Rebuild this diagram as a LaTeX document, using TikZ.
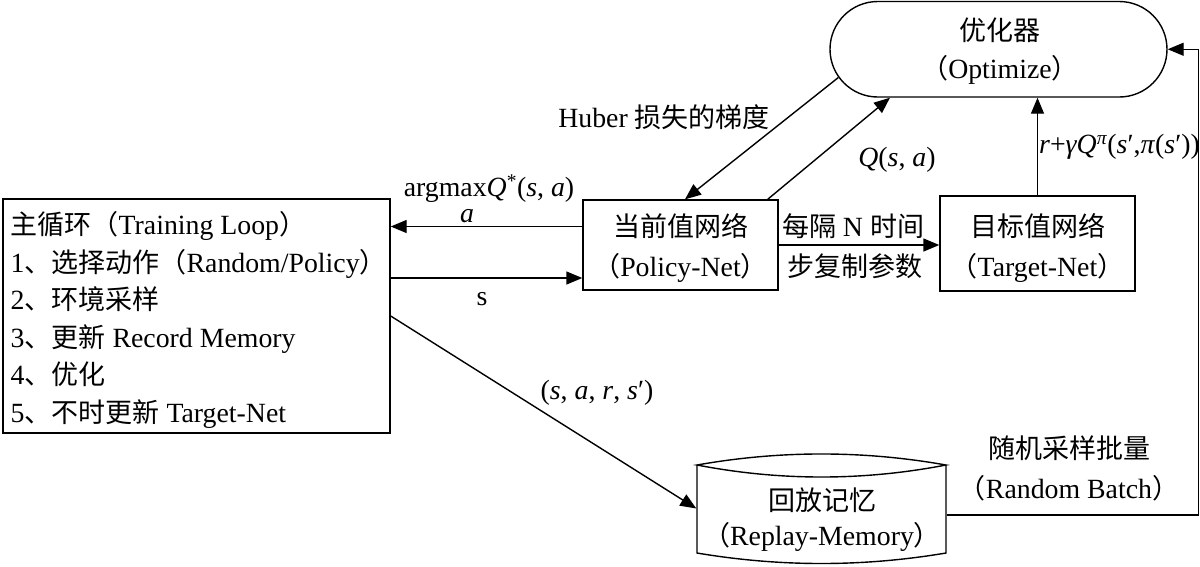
\documentclass[tikz,border=0pt]{standalone}
\usepackage{fontspec}
\setmainfont[Scale=1.03]{Liberation Serif}
\newfontfamily\cjkfont{Noto Sans CJK SC}
\usetikzlibrary{arrows.meta,shapes.misc}
\newcommand\zh[1]{{\cjkfont #1}}
\begin{document}
\begin{tikzpicture}[x=1pt,y=-1pt,
  every node/.style={font=\fontsize{27}{40}\selectfont, inner sep=0pt},
  line width=1.4pt,
  arr/.style={-{Triangle[length=16pt,width=13pt]}},
  box/.style={draw, line width=1.4pt, rectangle},
  txt/.style={align=center}]
\useasboundingbox (0,0) rectangle (1200,566);

% main loop box
\node[box, minimum width=387, minimum height=234] (loop) at (196.5,316) {};
\node[align=left, anchor=west, font=\fontsize{27}{37.5}\selectfont] (loopT) at (10,320)
 {\zh{主循环（}Training Loop\zh{）}\\
  1\zh{、选择动作（}Random/Policy\zh{）}\\
  2\zh{、环境采样}\\
  3\zh{、更新} Record Memory\\
  4\zh{、优化}\\
  5\zh{、不时更新} Target-Net};

% policy net
\node[box, minimum width=195, minimum height=90] (policy) at (680.5,245) {};
\node[txt] (policyT) at (680.5,248) {\zh{当前值网络}\\\zh{（}Policy-Net\zh{）}};

% target net
\node[box, minimum width=195, minimum height=95] (target) at (1037.5,243.5) {};
\node[txt] (targetT) at (1037.5,248) {\zh{目标值网络}\\\zh{（}Target-Net\zh{）}};

% optimizer
\node[draw, rounded rectangle, minimum width=337, minimum height=95.5] (opt) at (998.5,49.25) {};
\node[txt, font=\fontsize{27}{38}\selectfont] (optT) at (1000,51) {\zh{优化器}\\\zh{（}Optimize\zh{）}};

% replay memory (cylinder)
\node[minimum width=249, minimum height=109] (rm) at (821.5,508.5) {};
\draw (697,465) .. controls (780,450.3) and (863,450.3) .. (946,465)
      .. controls (863,481) and (780,481) .. (697,465) -- cycle;
\draw (697,465) -- (697,553) .. controls (780,567) and (863,567) .. (946,553) -- (946,465);
\node[txt, font=\fontsize{27}{35}\selectfont] (rmT) at (822,519.5) {\zh{回放记忆}\\\zh{（}Replay-Memory\zh{）}};

% connectors
\draw[arr] ([yshift=18.5pt]policy.west) coordinate (pa) -- (loop.east |- pa);
\draw[arr] (loop.east |- 0,278) coordinate (ls) -- (policy.west |- ls);
\draw[arr] (policy.east) -- (target.west |- policy.east);
\draw[arr] (target.north) -- (target.north |- opt.south);
\draw[arr] (opt.190.5) -- ([xshift=4.5pt]policy.north);
\draw[arr] ([xshift=-11pt]policy.north east) -- ([xshift=-108.5pt]opt.south);
\draw[arr] (loop.east) -- (rm.west);
\draw[arr] ([yshift=-6.5pt]rm.east) -- ++(252,0) |- (opt.east);

% labels
\node (lArg) at (489,188.5) {argmax\textit{Q}\textsuperscript{*}(\textit{s}, \textit{a})};
\node (lA) at (467,216.5) {\textit{a}};
\node (lS) at (482,299) {s};
\node (lHub) at (664,117) {Huber \zh{损失的梯度}};
\node (lQ) at (897,160) {\textit{Q}(\textit{s}, \textit{a})};
\node (lN1) at (853,226) {\zh{每隔} N \zh{时间}};
\node (lN2) at (855,266) {\zh{步复制参数}};
\node (lR) at (1119.5,147) {\textit{r}+\textit{γQ}\textsuperscript{\textit{π}}(\textit{s}′,\textit{π}(\textit{s}′))};
\node (lT) at (597,393) {(\textit{s}, \textit{a}, \textit{r}, \textit{s}′)};
\node[txt] (lB) at (1069,468) {\zh{随机采样批量}\\\zh{（}Random Batch\zh{）}};
\end{tikzpicture}
\end{document}
